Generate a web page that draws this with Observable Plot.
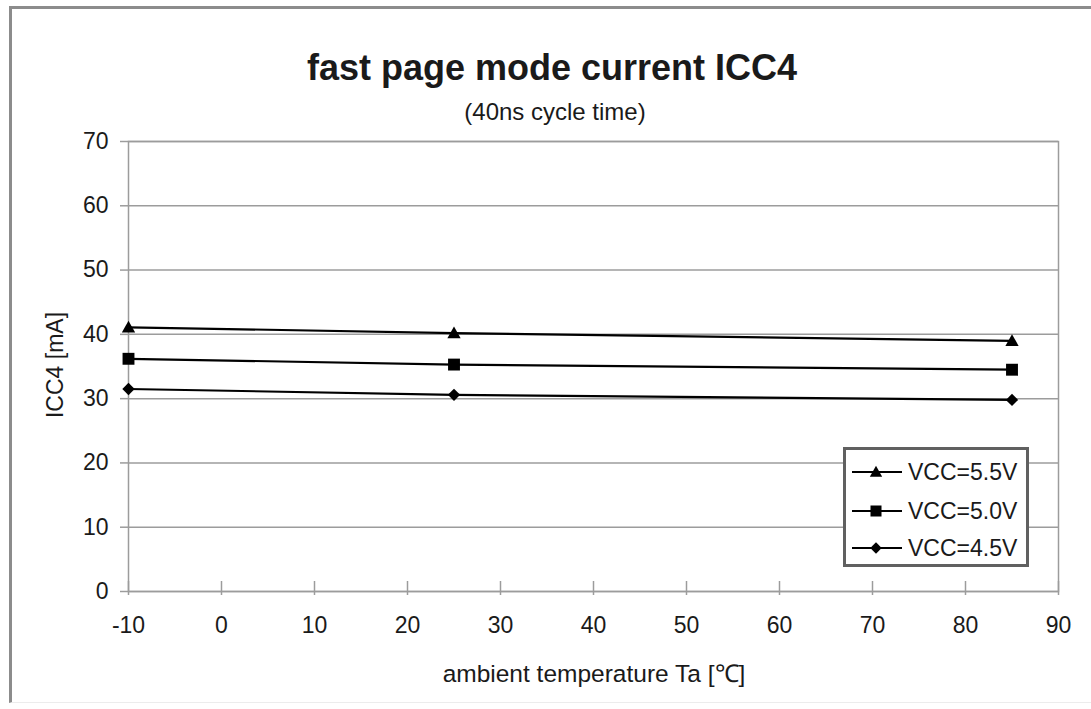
<!DOCTYPE html>
<html><head><meta charset="utf-8">
<script src="https://cdn.jsdelivr.net/npm/d3@7"></script>
<script src="https://cdn.jsdelivr.net/npm/@observablehq/plot@0.6"></script>
<style>
body{margin:0;background:#fff;}
#wrap{position:relative;width:1091px;height:709px;overflow:hidden;font-family:"Liberation Sans",Arial,sans-serif;color:#1a1a1a;}
#border{position:absolute;left:9px;top:6px;width:1100px;height:697px;border-left:3px solid #8c8c8c;border-top:3px solid #8c8c8c;border-bottom:1px solid #ececec;box-sizing:border-box;}
#title{position:absolute;left:0;width:1104px;top:47px;text-align:center;font-weight:bold;font-size:36px;line-height:normal;white-space:nowrap;}
#subtitle{position:absolute;left:0;width:1110px;top:98px;text-align:center;font-size:24px;line-height:normal;white-space:nowrap;}
#xlabel{position:absolute;left:0;width:1188px;top:656px;text-align:center;font-size:24.5px;line-height:normal;white-space:nowrap;}
#ylabel{position:absolute;left:55px;top:365px;transform:translate(-50%,-50%) rotate(-90deg);font-size:23px;line-height:normal;white-space:nowrap;}
#chart{position:absolute;left:0;top:0;}
#legend{position:absolute;left:843px;top:447px;}
</style>
</head><body>
<div id="wrap">
  <div id="border"></div>
  <div id="chart"></div>
  <div id="title">fast page mode current ICC4</div>
  <div id="subtitle">(40ns cycle time)</div>
  <div id="ylabel">ICC4 [mA]</div>
  <div id="xlabel">ambient temperature Ta [℃]</div>
  <div id="legend"></div>
</div>
<script>
// ---- data ----
const temps = [-10, 25, 85];
const seriesNames = ["VCC=5.5V", "VCC=5.0V", "VCC=4.5V"];
const vcc55 = [41.1, 40.2, 39.0];
const vcc50 = [36.2, 35.3, 34.5];
const vcc45 = [31.5, 30.6, 29.8];
const xTicks = [-10, 0, 10, 20, 30, 40, 50, 60, 70, 80, 90];
const yTicks = [0, 10, 20, 30, 40, 50, 60, 70];

// ---- symbols ----
const triSym = {draw(ctx, size){ const r = Math.sqrt(size/Math.PI);
  ctx.moveTo(0, -0.95*r); ctx.lineTo(0.95*r, 0.75*r); ctx.lineTo(-0.95*r, 0.75*r); ctx.closePath(); }};
const sqSym = {draw(ctx, size){ const r = Math.sqrt(size/Math.PI); const h = 0.85*r;
  ctx.moveTo(-h,-h); ctx.lineTo(h,-h); ctx.lineTo(h,h); ctx.lineTo(-h,h); ctx.closePath(); }};
const diaSym = {draw(ctx, size){ const r = Math.sqrt(size/Math.PI); const h = 0.88*r;
  ctx.moveTo(0,-h); ctx.lineTo(h,0); ctx.lineTo(0,h); ctx.lineTo(-h,0); ctx.closePath(); }};
const symbols = [triSym, sqSym, diaSym];

const seriesValues = [vcc55, vcc50, vcc45];
const rows = seriesNames.flatMap((name, k) => temps.map((t, i) => ({t, v: seriesValues[k][i], name})));

const grey = "#9c9c9c";
const chart = Plot.plot({
  width: 1091, height: 709,
  marginLeft: 128, marginRight: 33, marginTop: 141, marginBottom: 118,
  style: {fontFamily: "'Liberation Sans', Arial, sans-serif", fontSize: "23px", color: "#1a1a1a", background: "transparent", overflow: "visible"},
  x: {domain: [-10, 90], label: null},
  y: {domain: [0, 70], label: null},
  symbol: {domain: seriesNames, range: symbols},
  marks: [
    Plot.gridY(yTicks, {stroke: grey, strokeOpacity: 1, strokeWidth: 1.5}),
    Plot.frame({stroke: grey, strokeWidth: 1.5}),
    Plot.axisY(yTicks, {tickSize: 8, tickPadding: 12, stroke: grey, strokeWidth: 1.5, fill: "#1a1a1a", label: null, tickFormat: d => String(d)}),
    Plot.axisX(xTicks, {tickSize: 4, tickPadding: 21, stroke: grey, strokeWidth: 1.5, fill: "#1a1a1a", label: null, tickFormat: d => String(d)}),
    Plot.ruleX(xTicks, {x: d => d, y1: 0, y2: 0, insetTop: -10, stroke: grey, strokeWidth: 1.5}),
    Plot.line(rows, {x: "t", y: "v", z: "name", stroke: "#000", strokeWidth: 2.2}),
    Plot.dot(rows, {x: "t", y: "v", symbol: "name", fill: "#000", stroke: "none", r: 7})
  ]
});
document.getElementById("chart").appendChild(chart);

// ---- legend ----
const lw = 186, lh = 120;
const leg = d3.select("#legend").append("svg").attr("width", lw).attr("height", lh)
  .style("font-family", "'Liberation Sans', Arial, sans-serif").style("font-size", "23px");
leg.append("rect").attr("x", 1.5).attr("y", 1.5).attr("width", lw - 3).attr("height", lh - 3)
  .attr("fill", "#fff").attr("stroke", "#606060").attr("stroke-width", 3);
const rowY = [25, 64, 101];
seriesNames.forEach((name, k) => {
  const g = leg.append("g").attr("transform", `translate(0,${rowY[k]})`);
  g.append("line").attr("x1", 9).attr("x2", 59).attr("y1", 0).attr("y2", 0).attr("stroke", "#000").attr("stroke-width", 2);
  const p = d3.path(); symbols[k].draw(p, Math.PI * 42);
  g.append("path").attr("d", p.toString()).attr("transform", "translate(33,0)").attr("fill", "#000");
  g.append("text").attr("x", 65).attr("y", 0).attr("dy", "0.35em").attr("fill", "#1a1a1a").text(name);
});
</script>
</body></html>
